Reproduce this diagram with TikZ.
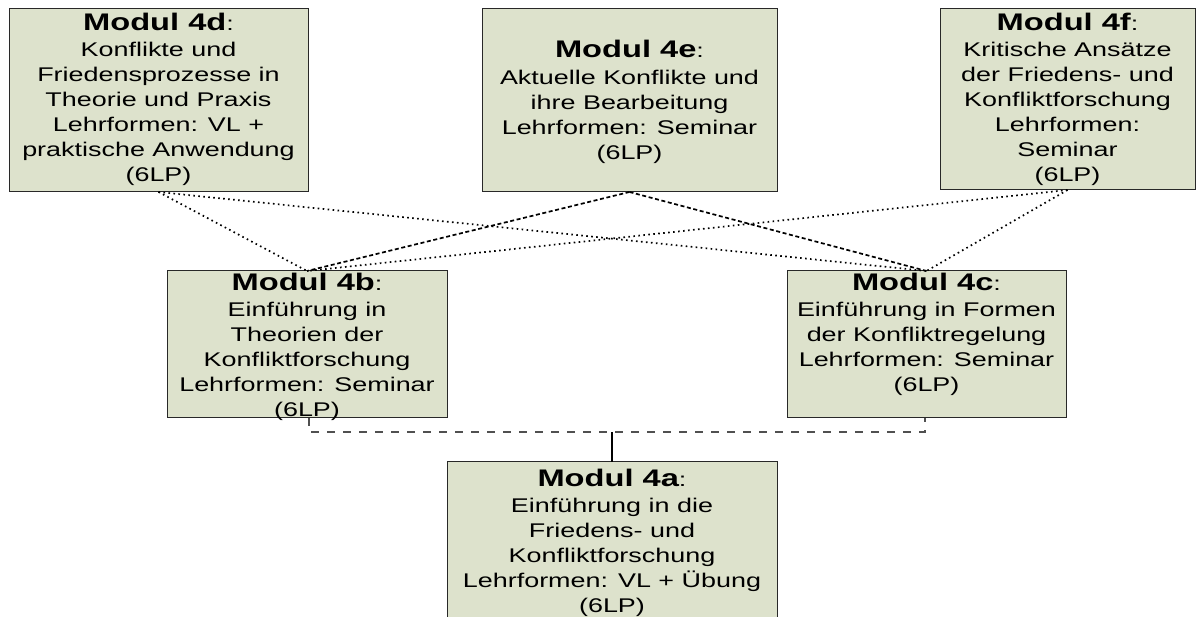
\documentclass[tikz,border=0pt]{standalone}
\usepackage{fontspec}
\setmainfont{Liberation Sans}[FakeStretch=1.36]
\definecolor{boxfill}{RGB}{221,226,204}
\definecolor{boxline}{RGB}{40,40,40}
\definecolor{bargray}{RGB}{80,80,80}
\tikzset{
  modbox/.style={draw=boxline, line width=1pt, fill=boxfill, inner sep=0pt, outer sep=0pt},
  modtext/.style={align=center, inner sep=0pt, anchor=north, font=\fontsize{19.8}{25}\selectfont},
  dotline/.style={line width=1.7pt, dash pattern=on 1.6pt off 3.4pt},
  fineline/.style={line width=1.7pt, dash pattern=on 4pt off 2.6pt},
  barline/.style={draw=bargray, line width=1.2pt, dash pattern=on 8pt off 8pt},
}
\newcommand{\modtitle}[1]{\rule{0pt}{18pt}{\fontsize{24}{25}\selectfont\bfseries Modul #1}:}
\begin{document}
\begin{tikzpicture}[x=1pt,y=-1pt]
\useasboundingbox (0,0) rectangle (1203,617);
% boxes
\node[modbox, minimum width=299pt, minimum height=183pt] (d) at (158.5,100.5) {};
\node[modbox, minimum width=295pt, minimum height=183pt] (e) at (629.5,100.5) {};
\node[modbox, minimum width=255pt, minimum height=181pt] (f) at (1067.5,99.5) {};
\node[modbox, minimum width=280pt, minimum height=147pt] (b) at (307,344.5) {};
\node[modbox, minimum width=279pt, minimum height=147pt] (c) at (926.5,344.5) {};
\node[modbox, minimum width=330pt, minimum height=180pt] (a) at (612,552) {};
% texts
\node[modtext] (dt) at (158.5,12) {\modtitle{4d}\\[1pt]Konflikte und\\Friedensprozesse in\\Theorie und Praxis\\Lehrformen: VL +\\praktische Anwendung\\(6LP)};
\node[modtext] (et) at (629.5,39) {\modtitle{4e}\\[2pt]Aktuelle Konflikte und\\ihre Bearbeitung\\Lehrformen: Seminar\\(6LP)};
\node[modtext] (ft) at (1067.5,12) {\modtitle{4f}\\[1pt]Kritische Ansätze\\der Friedens- und\\Konfliktforschung\\Lehrformen:\\Seminar\\(6LP)};
\node[modtext] (bt) at (307,272) {\modtitle{4b}\\[1pt]Einführung in\\Theorien der\\Konfliktforschung\\Lehrformen: Seminar\\(6LP)};
\node[modtext] (ct) at (926.5,272) {\modtitle{4c}\\[1pt]Einführung in Formen\\der Konfliktregelung\\Lehrformen: Seminar\\(6LP)};
\node[modtext] (at) at (612,468) {\modtitle{4a}\\[1pt]Einführung in die\\Friedens- und\\Konfliktforschung\\Lehrformen: VL + Übung\\(6LP)};
% upper connectors
\draw[dotline] (d.south) -- (b.north);
\draw[dotline] (d.south) -- (c.north);
\draw[fineline] (e.south) -- (b.north);
\draw[fineline] (e.south) -- (c.north);
\draw[dotline] (f.south) -- (b.north);
\draw[dotline] (f.south) -- (c.north);
% lower connectors
\coordinate (bar) at (612,432);
\draw[barline] ([xshift=2pt]b.south) -- ([xshift=2pt]b.south |- bar) -- ([xshift=-1.5pt]c.south |- bar) -- ([xshift=-1.5pt]c.south);
\draw[line width=1.6pt] (a.north) -- (bar);
\end{tikzpicture}
\end{document}
